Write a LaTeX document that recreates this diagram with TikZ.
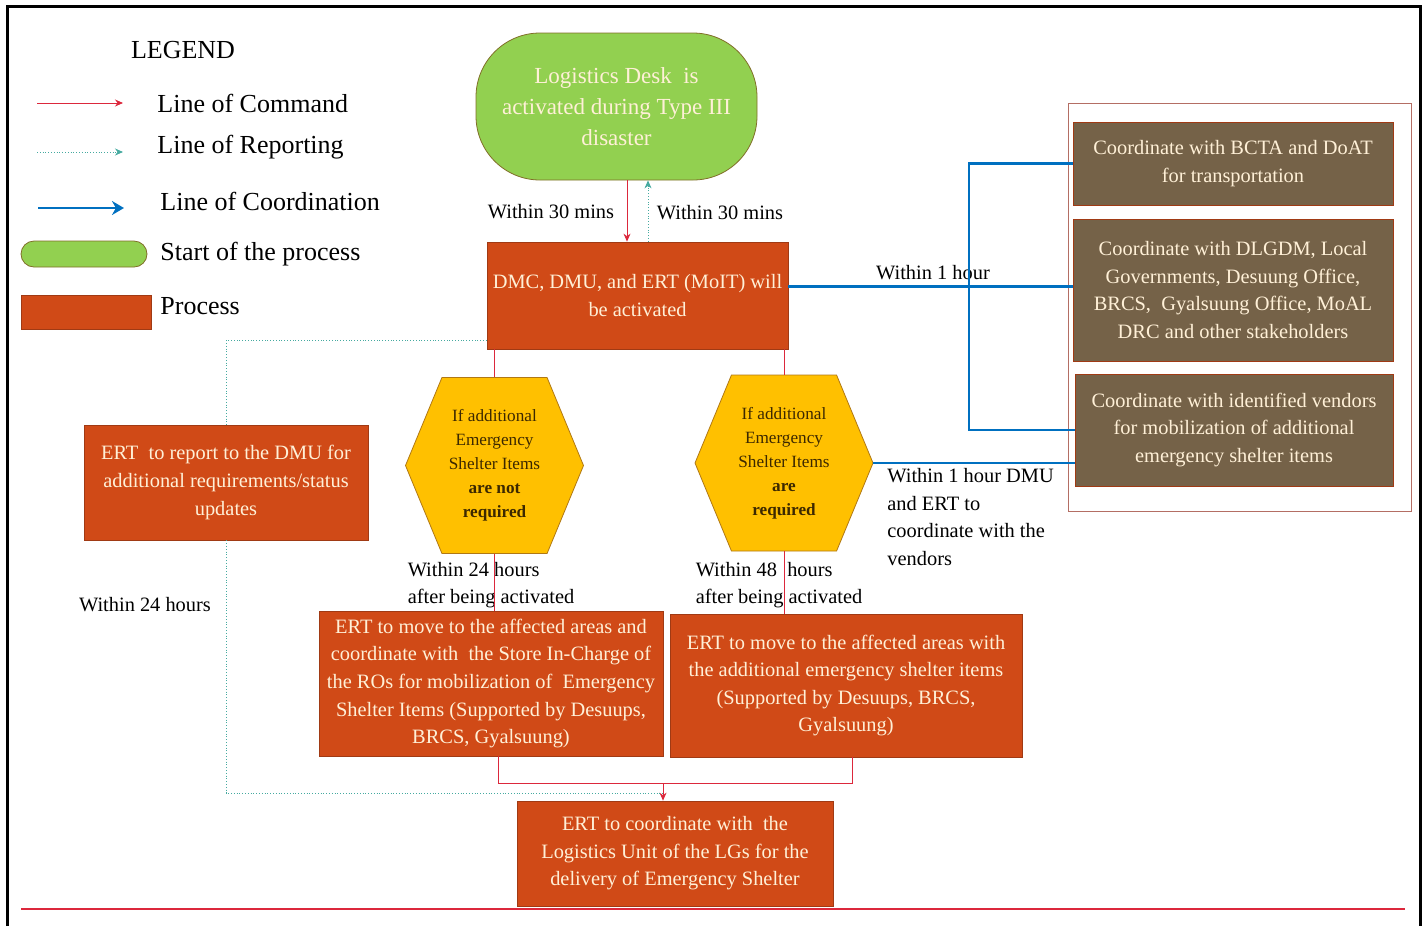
\documentclass[tikz,border=0pt]{standalone}
\usepackage{fontspec}
\setmainfont{Liberation Serif}
\usetikzlibrary{positioning,arrows.meta,shapes.symbols}

\definecolor{procfill}{RGB}{208,74,23}
\definecolor{procline}{RGB}{160,58,20}
\definecolor{startfill}{RGB}{146,208,80}
\definecolor{startline}{RGB}{128,110,40}
\definecolor{hexfill}{RGB}{255,192,0}
\definecolor{hexline}{RGB}{176,120,20}
\definecolor{hextext}{RGB}{60,40,0}
\definecolor{coordfill}{RGB}{117,98,72}
\definecolor{cream}{RGB}{255,240,215}
\definecolor{cmdcol}{RGB}{220,40,60}
\definecolor{repcol}{RGB}{70,170,160}
\definecolor{coordcol}{RGB}{0,112,192}
\definecolor{grpline}{RGB}{180,110,100}

\begin{document}
\begin{tikzpicture}[
  x=0.5pt, y=-0.5pt,
  font=\fontsize{10.2}{13.8}\selectfont,
  process/.style = {
    rectangle, draw=procline, fill=procfill, text=cream,
    align=center, inner sep=2pt,
  },
  startbox/.style = {
    rectangle, rounded corners=32pt, draw=startline, fill=startfill,
    text=cream, align=center, font=\fontsize{11.5}{15.5}\selectfont,
  },
  hexbox/.style = {
    signal, signal to=west and east, signal pointer angle=135,
    draw=hexline, fill=hexfill, text=hextext, align=center,
    minimum width=89pt, minimum height=88pt, inner sep=0pt,
    font=\fontsize{8.6}{12}\selectfont,
  },
  coordbox/.style = {
    rectangle, draw=procline, fill=coordfill, text=cream,
    align=center, minimum width=160pt,
  },
  group/.style = {rectangle, draw=grpline, fill=white, minimum width=171.5pt, minimum height=204pt},
  legendtxt/.style = {anchor=west, inner sep=0pt, font=\fontsize{13}{15}\selectfont},
  label/.style = {align=left, inner sep=0pt},
  cmd/.style = {draw=cmdcol, thin},
  report/.style = {draw=repcol, densely dotted, thin},
  coord/.style = {draw=coordcol, line width=1.2pt},
  tip/.style = {-{Stealth[length=4pt,width=3.5pt]}},
]
  % frame
  \draw[line width=1.5pt] (7,926) -- (7,6) -- (1420,6) -- (1420,926);
  \useasboundingbox (0,0) rectangle (1427,926);

  % legend
  \node[font=\fontsize{13}{15}\selectfont] (lgtitle) at (183,50) {LEGEND};
  \node[legendtxt] (lg1) at (157,103) {Line of Command};
  \node[legendtxt] (lg2) at (157,147) {Line of Reporting};
  \node[legendtxt] (lg3) at (160,201) {Line of Coordination};
  \node[legendtxt] (lg4) at (160,254) {Start of the process};
  \node[legendtxt] (lg5) at (160,306) {Process};
  \draw[cmd, tip] ([xshift=-60pt]lg1.west) -- ([xshift=-17pt]lg1.west);
  \draw[report, tip] ([xshift=-60pt,yshift=-2.5pt]lg2.west) -- ([xshift=-17pt,yshift=-2.5pt]lg2.west);
  \draw[coord, -{Stealth[length=6pt,width=7pt]}] ([xshift=-61pt,yshift=-3.5pt]lg3.west) -- ([xshift=-18pt,yshift=-3.5pt]lg3.west);
  \draw[draw=startline, fill=startfill, rounded corners=6.5pt] (21,241) rectangle (147,267);
  \draw[draw=procline, fill=procfill] (21,295) rectangle (151,329);

  % main flow
  \node[startbox, minimum width=140.5pt, minimum height=73.5pt] (start) at (616.5,106.5)
    {Logistics Desk\ \ is\\activated during Type III\\disaster};
  \node[process, minimum width=150.5pt, minimum height=53.5pt] (dmc) at (637.5,295.5)
    {DMC, DMU, and ERT (MoIT) will\\be activated};
  \node[hexbox] (hex1) at (494.5,465.5)
    {If additional\\Emergency\\Shelter Items\\\textbf{are not}\\\textbf{required}};
  \node[hexbox] (hex2) at (784,463)
    {If additional\\Emergency\\Shelter Items\\\textbf{are}\\\textbf{required}};
  \node[process, minimum width=142pt, minimum height=57.5pt] (rep) at (226,482.5)
    {ERT\ \ to report to the DMU for\\additional requirements/status\\updates};
  \node[process, minimum width=172pt, minimum height=72.5pt] (bl) at (491,683.5)
    {ERT to move to the affected areas and\\coordinate with\ \ the Store In-Charge of\\the ROs for mobilization of\ \ Emergency\\Shelter Items (Supported by Desuups,\\BRCS, Gyalsuung)};
  \node[process, minimum width=176pt, minimum height=71.5pt] (br) at (846,685.5)
    {ERT to move to the affected areas with\\the additional emergency shelter items\\(Supported by Desuups, BRCS,\\Gyalsuung)};
  \node[process, minimum width=158pt, minimum height=52.5pt] (final) at (675,853.5)
    {ERT to coordinate with\ \ the\\Logistics Unit of the LGs for the\\delivery of Emergency Shelter};

  % coordination group
  \node[group] (grp) at (1239.5,307) {};
  \node[coordbox, minimum height=41.5pt] (co1) at (1233,163.5)
    {Coordinate with BCTA and DoAT\\for transportation};
  \node[coordbox, minimum height=71pt] (co2) at (1233,290)
    {Coordinate with DLGDM, Local\\Governments, Desuung Office,\\BRCS,\ \ Gyalsuung Office, MoAL\\DRC and other stakeholders};
  \node[coordbox, minimum width=159pt, minimum height=56pt] (co3) at (1234,430)
    {Coordinate with identified vendors\\for mobilization of additional\\emergency shelter items};

  % labels
  \node (t30a) at (551,212) {Within 30 mins};
  \node (t30b) at (720,213) {Within 30 mins};
  \node (t1h) at (933,273) {Within 1 hour};
  \node[label, anchor=north west] (tvend) at (887,468)
    {Within 1 hour DMU\\and ERT to\\coordinate with the\\vendors};
  \node[label] (t24a) at (491,585) {Within 24 hours\\after being activated};
  \node[label] (t48) at (779,585) {Within 48\ \ hours\\after being activated};
  \node (t24b) at (145,605) {Within 24 hours};

  % command lines
  \draw[cmd, tip] ([xshift=5.25pt]start.south) -- ([xshift=5.25pt]start.south |- dmc.north);
  \draw[report, tip] ([xshift=15.75pt]start.south |- dmc.north) -- ([xshift=15.75pt]start.south);
  \draw[cmd] (hex1.north |- dmc.south) -- (hex1.north);
  \draw[cmd] (hex2.north |- dmc.south) -- (hex2.north);
  \draw[cmd] (hex1.south) -- (hex1.south |- bl.north);
  \draw[cmd] (hex2.south) -- (hex2.south |- br.north);
  \coordinate (join) at (663,783);
  \draw[cmd] ([xshift=3.5pt]bl.south) |- (join) -| ([xshift=3pt]br.south);
  \draw[cmd, tip] (join) -- (join |- final.north);

  % reporting lines
  \draw[report] ([yshift=4.5pt]dmc.south west) -| (rep.north);
  \draw[report] (rep.south) |- ([yshift=-5pt]join);

  % coordination lines
  \coordinate (bus) at (969,163.5);
  \draw[coord] ([yshift=4.5pt]dmc.east) -- ([yshift=4.5pt]dmc.east -| co2.west);
  \draw[coord] (co1.west) -- (bus) |- (co3.west);
  \draw[coord] (hex2.east) -- (hex2.east -| co3.west);

  % bottom rule
  \draw[cmdcol, line width=0.8pt] (21,909) -- (1405,909);
\end{tikzpicture}
\end{document}
